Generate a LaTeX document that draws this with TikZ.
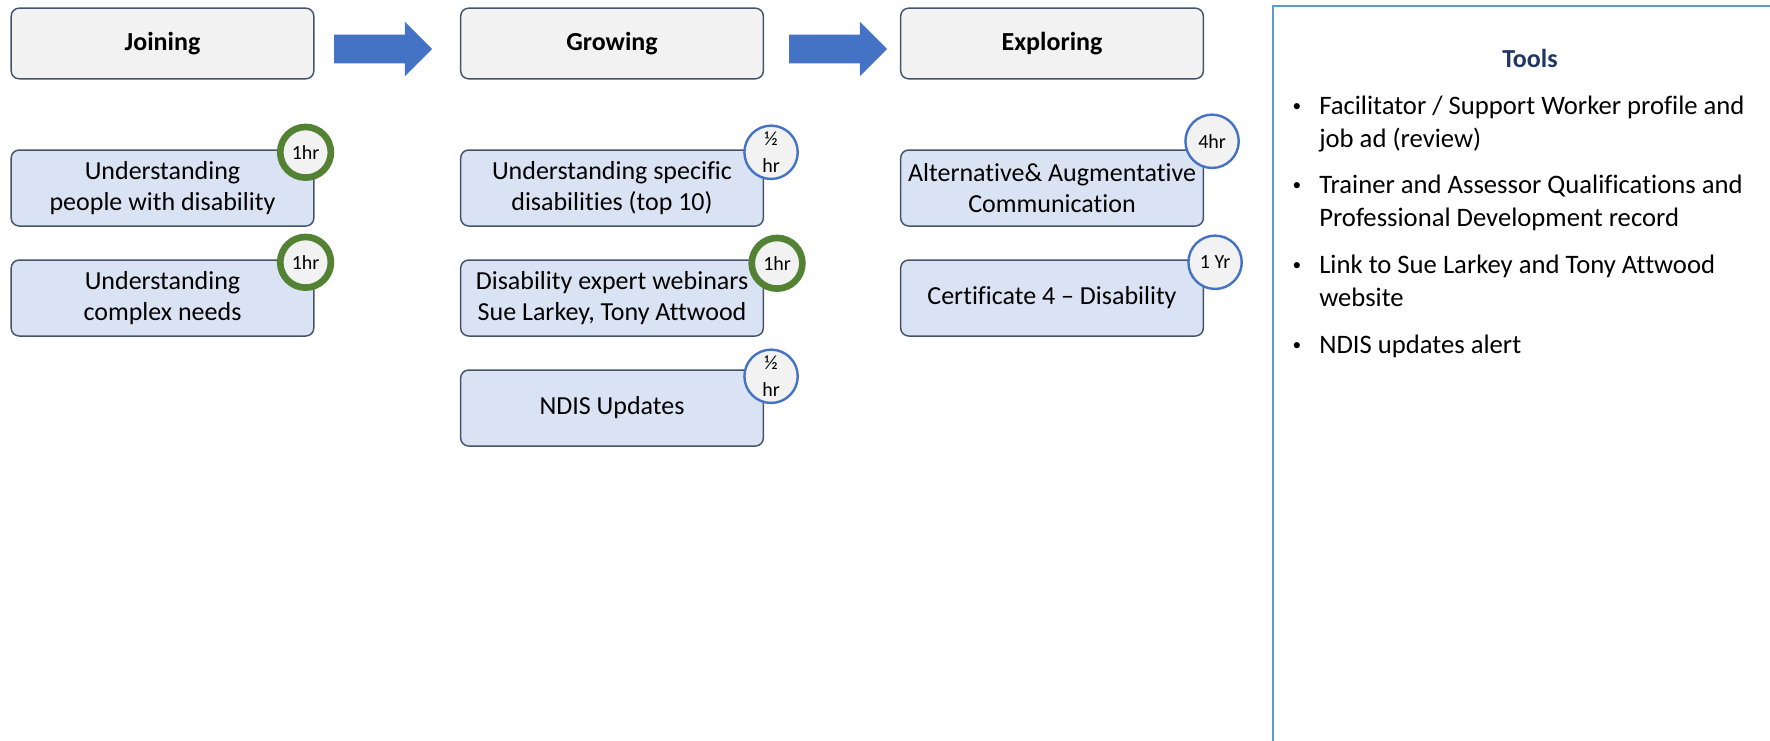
\documentclass[tikz,border=0pt]{standalone}
\usepackage{fontspec}
\setmainfont{Carlito}[Ligatures=NoCommon]
\usetikzlibrary{shapes.arrows, positioning}

\definecolor{headfill}{HTML}{F2F2F2}
\definecolor{topicfill}{HTML}{DAE3F3}
\definecolor{boxline}{HTML}{44546A}
\definecolor{arrowblue}{HTML}{4472C4}
\definecolor{ringgreen}{HTML}{548235}
\definecolor{panelblue}{HTML}{5B9BD5}
\definecolor{titlenavy}{HTML}{1F3864}

\begin{document}
\begin{tikzpicture}[
                    x=0.75pt, y=-0.75pt,
                    node distance=82.5pt,
                    head/.style={draw=boxline, line width=1.1pt, fill=headfill,
                        rounded corners=6pt, minimum width=227pt, minimum height=53pt,
                        font=\fontsize{19.5}{23.4}\selectfont\bfseries},
                    topic/.style={draw=boxline, line width=1.1pt, fill=topicfill,
                        rounded corners=6pt, minimum width=227pt, minimum height=57pt,
                        inner sep=0pt, align=center,
                        font=\fontsize{19.5}{23.3}\selectfont},
                    badge/.style={circle, fill=headfill, inner sep=0pt, align=center,
                        font=\fontsize{15}{20}\selectfont},
                    halfhr/.style={badge, draw=arrowblue, line width=1.8pt, minimum size=40pt},
                    onehr/.style={badge, draw=ringgreen, line width=5pt, minimum size=38pt},
                    blockarrow/.style={single arrow, fill=arrowblue, inner xsep=0pt,
                        inner ysep=10.5pt, minimum height=73.5pt,
                        single arrow head extend=9.75pt},
                    tool/.style={anchor=north west, inner sep=0pt, align=left,
                        font=\fontsize{20}{24.2}\selectfont},
                ]
                \path[use as bounding box, clip] (0,0) rectangle (1770,741);

                % stages
                \node[head] (join) at (162.5,43.5) {Joining};
                \node[head] (grow) at (612,43.5) {Growing};
                \node[head] (expl) at (1052,43.5) {Exploring};
                \node[blockarrow] (a1) at (376,49) {};
                \node[blockarrow] (a2) at (831,49) {};

                % joining
                \node[topic, below of=join, node distance=108.4pt] (join1) {Understanding\\people with disability};
                \node[topic, below of=join1] (join2) {Understanding\\complex needs};
                \node[onehr] at ([shift={(-9,3)}]join1.north east) {1hr};
                \node[onehr] at ([shift={(-9,3)}]join2.north east) {1hr};

                % growing
                \node[topic, below of=grow, node distance=108.4pt] (grow1) {Understanding specific\\disabilities (top 10)};
                \node[topic, below of=grow1] (grow2) {Disability expert webinars\\Sue Larkey, Tony Attwood};
                \node[topic, below of=grow2] (grow3) {NDIS Updates};
                \node[halfhr] at ([shift={(7,3)}]grow1.north east) {½\\hr};
                \node[onehr] at ([shift={(13,4)}]grow2.north east) {1hr};
                \node[halfhr] at ([shift={(7,7)}]grow3.north east) {½\\hr};

                % exploring
                \node[topic, below of=expl, node distance=108.4pt] (expl1) {Alternative\& Augmentative\\Communication};
                \node[topic, below of=expl1] (expl2) {Certificate 4 -- Disability};
                \node[halfhr] at ([shift={(8,-8)}]expl1.north east) {4hr};
                \node[halfhr] at ([shift={(11,3)}]expl2.north east) {1 Yr};

                % tools panel
                \draw[panelblue, line width=1.6pt] (1800,6) -- (1273,6) -- (1273,760);
                \node[font=\fontsize{19.5}{23.4}\selectfont\bfseries, text=titlenavy] (title) at (1530,58) {Tools};
                \foreach \y/\txt [count=\i] in {96/{Facilitator / Support Worker profile and\\job ad (review)},
                                                175/{Trainer and Assessor Qualifications and\\Professional Development record},
                                                255/{Link to Sue Larkey and Tony Attwood\\website},
                                                335/{NDIS updates alert}} {
                    \node[tool] (tool\i) at (1319,\y) {\txt};
                    \node[tool, anchor=north] (dot\i) at (1297,\y) {\vphantom{l}\raisebox{0.12em}{\scalebox{0.65}{•}}};
                }
            \end{tikzpicture}
\end{document}
